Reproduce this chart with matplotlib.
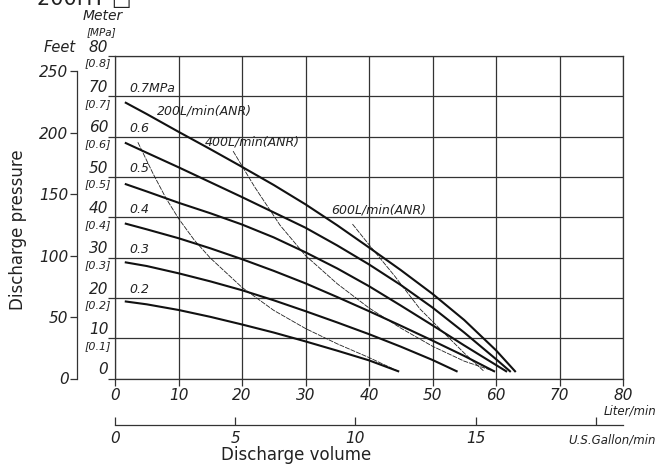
import numpy as np
import matplotlib.pyplot as plt
from matplotlib.transforms import blended_transform_factory

# discharge volume [L/min] / discharge pressure [m]
p07_x = [1.7, 5, 10, 15, 20, 25, 30, 35, 40, 45, 50, 55, 60, 63.0]
p07_y = [68.4, 65.6, 61.2, 56.9, 52.5, 48.0, 43.2, 38.0, 32.5, 26.9, 21.0, 14.5, 7.0, 1.8]
p06_x = [1.7, 5, 10, 15, 20, 25, 30, 35, 40, 45, 50, 55, 60, 62.2]
p06_y = [58.4, 56.0, 52.4, 48.7, 45.0, 41.2, 37.4, 33.0, 28.3, 23.2, 17.6, 11.4, 4.8, 1.8]
p05_x = [1.7, 5, 10, 15, 20, 25, 30, 35, 40, 45, 50, 55, 61.6]
p05_y = [48.2, 46.4, 43.6, 41.0, 38.2, 35.0, 31.3, 27.3, 22.9, 18.1, 13.2, 8.2, 1.8]
p04_x = [1.7, 5, 10, 15, 20, 25, 30, 35, 40, 45, 50, 55, 59.7]
p04_y = [38.4, 37.0, 34.8, 32.3, 29.6, 26.7, 23.6, 20.2, 16.7, 13.1, 9.4, 5.6, 1.8]
p03_x = [1.7, 5, 10, 15, 20, 25, 30, 35, 40, 45, 50, 53.8]
p03_y = [28.8, 27.9, 26.1, 24.1, 21.9, 19.4, 16.7, 13.9, 11.0, 7.9, 4.6, 1.8]
p02_x = [1.7, 5, 10, 15, 20, 25, 30, 35, 40, 44.6]
p02_y = [19.1, 18.4, 17.0, 15.3, 13.4, 11.4, 9.2, 6.9, 4.5, 1.8]

# air consumption lines
a200_x = [3.6, 6, 8, 10, 12.5, 15, 20, 25, 30, 35, 40, 44.6]
a200_y = [58.6, 50.8, 44.8, 39.7, 34.3, 29.9, 22.6, 16.9, 12.4, 8.6, 5.2, 1.8]
a400_x = [18.6, 22, 26, 30, 35, 40, 45, 50, 55, 59.7]
a400_y = [56.4, 47.5, 38.0, 30.5, 23.5, 17.5, 12.5, 8.0, 4.3, 1.8]
a600_x = [37.4, 40, 44, 48, 52, 55, 58.1]
a600_y = [38.3, 33.2, 25.5, 17.3, 11.0, 6.3, 1.8]

pressure_labels = ["0.7MPa", "0.6", "0.5", "0.4", "0.3", "0.2"]
air_labels = ["200L/min(ANR)", "400L/min(ANR)", "600L/min(ANR)"]
meter_ticks = [0, 10, 20, 30, 40, 50, 60, 70, 80]
mpa_ticks = ["", "[0.1]", "[0.2]", "[0.3]", "[0.4]", "[0.5]", "[0.6]", "[0.7]", "[0.8]"]
feet_ticks = [0, 50, 100, 150, 200, 250]
liter_ticks = [0, 10, 20, 30, 40, 50, 60, 70, 80]
gallon_ticks = [0, 5, 10, 15, 20]
gallon_labels = ["0", "5", "10", "15", ""]

fig = plt.figure(figsize=(6.59, 4.66), dpi=100)
ax = fig.add_axes([115/659, (466-378.5)/466, 508/659, 322.5/466])
ax.set_xlim(0, 80)
ax.set_ylim(0, 80)

for v in liter_ticks:
    ax.axvline(v, color='#333333', lw=0.9, zorder=1)
for v in meter_ticks:
    ax.axhline(v, color='#333333', lw=0.9, zorder=1)
for s in ax.spines.values():
    s.set_linewidth(0.9)
    s.set_color('#333333')

for xs, ys in [(p07_x, p07_y), (p06_x, p06_y), (p05_x, p05_y),
               (p04_x, p04_y), (p03_x, p03_y), (p02_x, p02_y)]:
    ax.plot(xs, ys, color='#111111', lw=1.5, zorder=3, solid_joinstyle='round')
for xs, ys in [(a200_x, a200_y), (a400_x, a400_y), (a600_x, a600_y)]:
    ax.plot(xs, ys, color='#222222', lw=0.6, ls=(0, (6, 1.2)), zorder=2)

it = dict(style='italic', fontsize=9, color='#222222')
for lab, m in zip(pressure_labels, [70, 60, 50, 40, 30, 20]):
    ax.text(2.3, m + 0.4, lab, va='bottom', ha='left', **it)
ax.text(6.6, 66.3, air_labels[0], va='center', ha='left', **it)
ax.text(14.2, 58.7, air_labels[1], va='center', ha='left', **it)
ax.text(34.0, 41.7, air_labels[2], va='center', ha='left', **it)

# meter / MPa scale
ax.set_yticks(meter_ticks)
ax.set_yticklabels([])
ax.tick_params(axis='y', direction='out', length=5, width=0.9, color='#333333')
tr = blended_transform_factory(ax.transAxes, ax.transData)
for m, mp in zip(meter_ticks, mpa_ticks):
    ax.text(-0.013, m + 0.3, str(m), transform=tr, ha='right', va='bottom',
            style='italic', fontsize=11, color='#222222')
    if mp:
        ax.text(-0.007, m - 0.6, mp, transform=tr, ha='right', va='top',
                style='italic', fontsize=8, color='#222222')

# feet scale
sec = ax.secondary_yaxis(-38/508, functions=(lambda m: m / 0.3048, lambda f: f * 0.3048))
sec.set_yticks(feet_ticks)
sec.set_yticklabels([str(f) for f in feet_ticks], style='italic', fontsize=11, color='#222222')
sec.tick_params(direction='out', length=5, width=0.9, color='#333333', pad=1)
sec.spines['left'].set_bounds(0, 250)
sec.spines['left'].set_linewidth(0.9)
sec.spines['left'].set_color('#333333')

# liter/min scale
ax.set_xticks(liter_ticks)
ax.set_xticklabels([str(v) for v in liter_ticks], style='italic', fontsize=11, color='#222222')
ax.tick_params(axis='x', direction='out', length=5, width=0.9, color='#333333', pad=2)

# gallon scale
gal = ax.secondary_xaxis(-46.5/322.5, functions=(lambda l: l / 3.785, lambda g: g * 3.785))
gal.set_xticks(gallon_ticks)
gal.set_xticklabels(gallon_labels, style='italic', fontsize=11, color='#222222')
gal.tick_params(direction='in', length=6, width=0.9, color='#333333', pad=4)
gal.spines['bottom'].set_bounds(0, 80 / 3.785)
gal.spines['bottom'].set_linewidth(0.9)
gal.spines['bottom'].set_color('#333333')

fig.text(656/659, 1 - 411/466, "Liter/min", ha='right', va='center', style='italic', fontsize=8.5, color='#222222')
fig.text(656/659, 1 - 440/466, "U.S.Gallon/min", ha='right', va='center', style='italic', fontsize=8.5, color='#222222')
fig.text(296/659, 1 - 455/466, "Discharge volume", ha='center', va='center', fontsize=12, color='#222222')
fig.text(18/659, 1 - 230/466, "Discharge pressure", ha='center', va='center', rotation=90, fontsize=12, color='#222222')
fig.text(60/659, 1 - 48/466, "Feet", ha='center', va='center', style='italic', fontsize=10.5, color='#222222')
fig.text(103/659, 1 - 16/466, "Meter", ha='center', va='center', style='italic', fontsize=10, color='#222222')
fig.text(101/659, 1 - 32/466, "[MPa]", ha='center', va='center', style='italic', fontsize=7.5, color='#222222')
fig.text(37/659, 1 - 5/466, "200HT \u25a1", ha='left', va='baseline', fontsize=15, color='#222222')

fig.savefig("out.png", dpi=100)
